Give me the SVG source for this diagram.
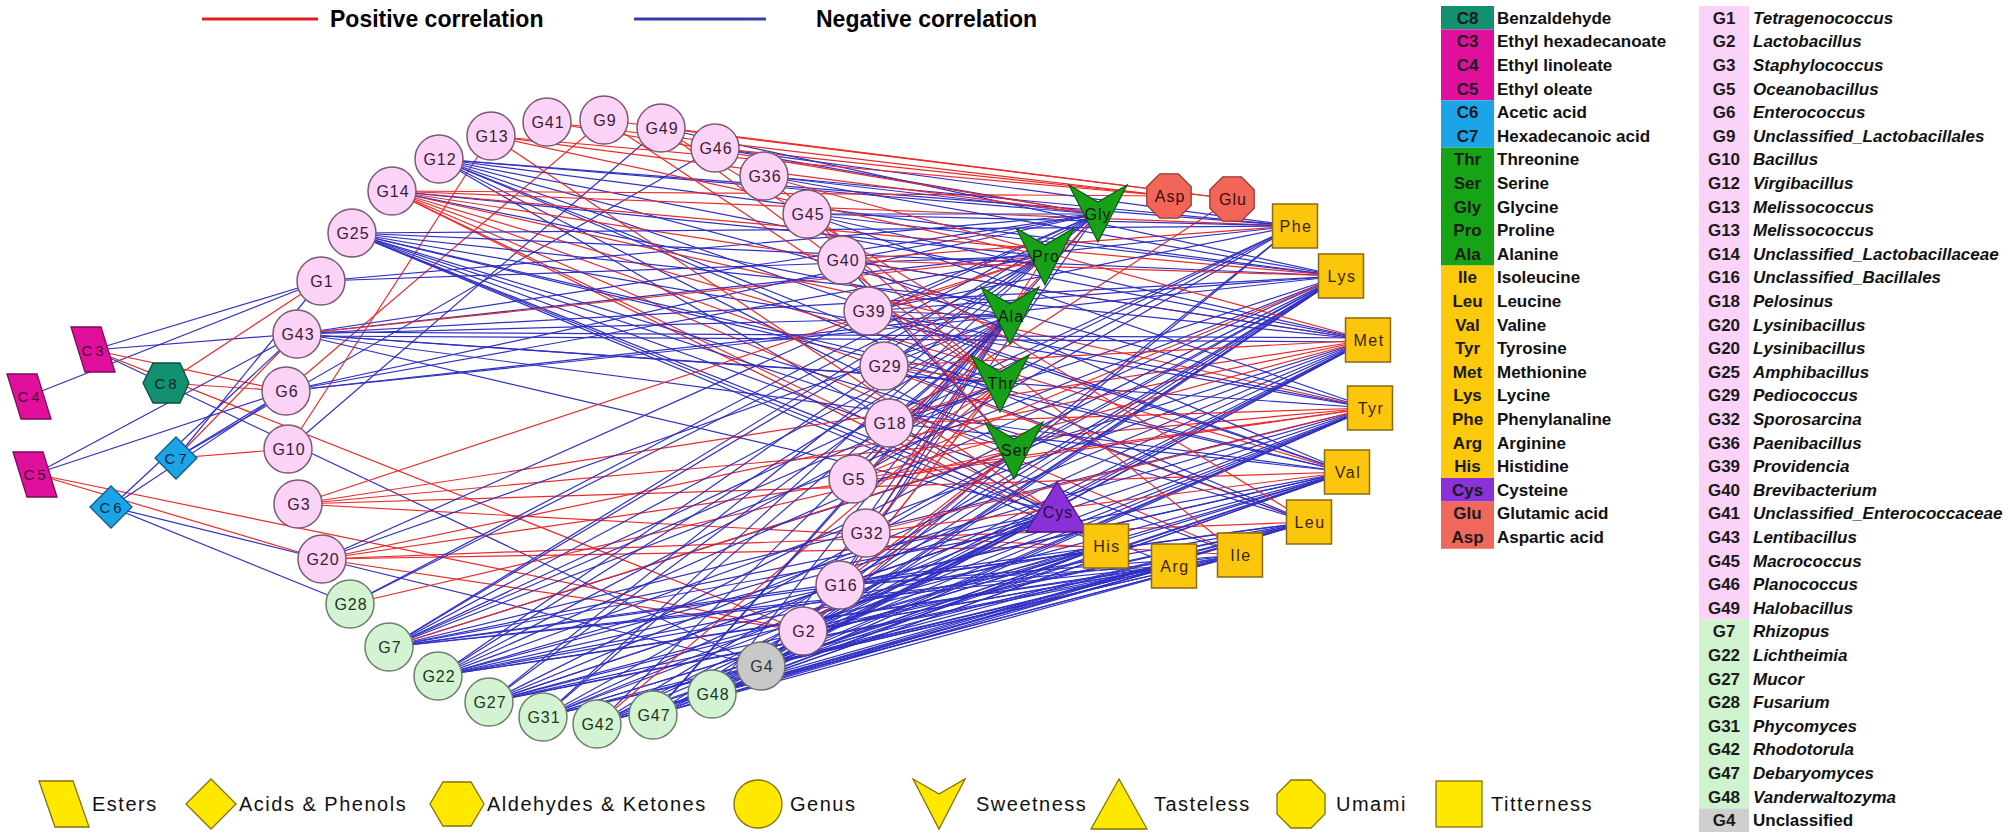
<svg xmlns="http://www.w3.org/2000/svg" width="2008" height="839" viewBox="0 0 2008 839">
<style>
.p{stroke:#ec2a2a;stroke-width:1.2;fill:none}
.n{stroke:#3030c4;stroke-width:1.2;fill:none}
.gp circle{fill:#fad3f7;stroke:#7b5a70;stroke-width:1.5}
.gf circle{fill:#d3f3d3;stroke:#6b806b;stroke-width:1.5}
.gu circle{fill:#c8c8c8;stroke:#6f6f6f;stroke-width:1.5}
text{font-family:"Liberation Sans",Arial,sans-serif}
.gl{font-size:16px;text-anchor:middle;letter-spacing:1px;fill:#3a2035}
.gf .gl{fill:#1e361e}
.gu .gl{fill:#333}
.sq rect{fill:#fcc60c;stroke:#8a6a10;stroke-width:1.5}
.sq text{font-size:16px;text-anchor:middle;letter-spacing:1.5px;fill:#3a2400}
.sw polygon{fill:#18a018;stroke:#0b5a0b;stroke-width:1.2}
.sw text{font-size:16px;text-anchor:middle;letter-spacing:1px;fill:#0a1a0a}
.um polygon{fill:#f2665a;stroke:#9a3a30;stroke-width:1.3}
.um text{font-size:16px;text-anchor:middle;letter-spacing:1px;fill:#3a0a0a}
.ts polygon{fill:#8a30d8;stroke:#4a1a80;stroke-width:1.3}
.ts text{font-size:16px;text-anchor:middle;letter-spacing:1px;fill:#240a40}
.es polygon{fill:#e0109c;stroke:#7a0a58;stroke-width:1.3}
.ac polygon{fill:#1ba4e8;stroke:#0a5a8a;stroke-width:1.3}
.al polygon{fill:#12906f;stroke:#0a5040;stroke-width:1.3}
.cl{font-size:15px;text-anchor:middle;letter-spacing:3px;fill:#3a0a30}
.ac .cl{fill:#0a2a40}
.al .cl{fill:#062a20}
.lg{fill:#ffe800;stroke:#857000;stroke-width:1.3}
.lt{font-size:20px;letter-spacing:1.5px;fill:#111}
.tt{font-size:17px;font-weight:bold;fill:#111}
.tc{font-size:17px;font-weight:bold;fill:#1a1a1a;text-anchor:middle}
.ti{font-style:italic}
.hd{font-size:23px;font-weight:bold;fill:#000}
</style>

<g id="legend-lines">
<line x1="202" y1="19" x2="318" y2="19" stroke="#e02020" stroke-width="3"/>
<text class="hd" x="330" y="27">Positive correlation</text>
<line x1="634" y1="19" x2="766" y2="19" stroke="#3a3aa8" stroke-width="3"/>
<text class="hd" x="816" y="27">Negative correlation</text>
</g>

<g id="connectors">
<path class="n" d="M29 396L321 281"/>
<path class="n" d="M93 350L297 334"/>
<path class="n" d="M93 350L321 281"/>
<path class="n" d="M93 350L761 666"/>
<path class="p" d="M93 350L286 391"/>
<path class="p" d="M93 350L803 631"/>
<path class="p" d="M166 383L321 281"/>
<path class="p" d="M166 383L286 391"/>
<path class="n" d="M35 474L297 334"/>
<path class="n" d="M35 474L286 391"/>
<path class="p" d="M35 474L322 559"/>
<path class="p" d="M35 474L803 631"/>
<path class="p" d="M176 458L288 449"/>
<path class="p" d="M176 458L297 334"/>
<path class="n" d="M176 458L286 391"/>
<path class="n" d="M176 458L321 281"/>
<path class="n" d="M111 507L286 391"/>
<path class="n" d="M111 507L297 334"/>
<path class="n" d="M111 507L322 559"/>
<path class="n" d="M111 507L350 604"/>
<path class="n" d="M715 148L176 458"/>
<path class="p" d="M604 120L286 391"/>
<path class="n" d="M661 128L288 449"/>
<path class="p" d="M491 136L288 449"/>

<path class="n" d="M439 159L1097 214"/>
<path class="n" d="M439 159L1295 226"/>
<path class="n" d="M439 159L1341 276"/>
<path class="n" d="M439 159L1368 340"/>
<path class="n" d="M439 159L1370 408"/>
<path class="n" d="M439 159L1347 472"/>
<path class="n" d="M439 159L1309 522"/>
<path class="n" d="M439 159L1000 383"/>
<path class="n" d="M439 159L1014 450"/>
<path class="n" d="M439 159L1106 546"/>

<path class="p" d="M392 191L1295 226"/>
<path class="p" d="M392 191L1341 276"/>
<path class="p" d="M392 191L1368 340"/>
<path class="p" d="M392 191L1370 408"/>
<path class="p" d="M392 191L1347 472"/>
<path class="p" d="M392 191L1309 522"/>
<path class="p" d="M392 191L1240 555"/>
<path class="p" d="M392 191L1057 512"/>
<path class="p" d="M392 191L1106 546"/>
<path class="p" d="M392 191L1169 196"/>
<path class="n" d="M392 191L1045 256"/>
<path class="n" d="M392 191L1010 316"/>

<path class="n" d="M352 233L1295 226"/>
<path class="n" d="M352 233L1341 276"/>
<path class="n" d="M352 233L1368 340"/>
<path class="n" d="M352 233L1370 408"/>
<path class="n" d="M352 233L1347 472"/>
<path class="n" d="M352 233L1309 522"/>
<path class="n" d="M352 233L1240 555"/>
<path class="n" d="M352 233L1174 566"/>
<path class="n" d="M352 233L1106 546"/>
<path class="n" d="M352 233L1057 512"/>
<path class="n" d="M352 233L1014 450"/>
<path class="n" d="M352 233L1000 383"/>

<path class="n" d="M321 281L1045 256"/>
<path class="n" d="M321 281L1097 214"/>

<path class="n" d="M297 334L1295 226"/>
<path class="n" d="M297 334L1341 276"/>
<path class="n" d="M297 332L1368 338"/>
<path class="n" d="M297 336L1368 342"/>
<path class="n" d="M297 334L1370 408"/>
<path class="n" d="M297 334L1347 472"/>
<path class="n" d="M297 334L1057 512"/>
<path class="n" d="M297 334L1010 316"/>
<path class="n" d="M297 334L1000 383"/>
<path class="n" d="M297 334L1097 214"/>
<path class="p" d="M297 334L1045 256"/>

<path class="n" d="M286 391L1097 214"/>
<path class="n" d="M286 391L1045 256"/>
<path class="n" d="M286 391L1010 316"/>
<path class="n" d="M286 391L1341 276"/>

<path class="p" d="M298 504L1045 256"/>
<path class="p" d="M298 504L1370 408"/>
<path class="p" d="M298 504L1240 555"/>
<path class="p" d="M298 504L1368 340"/>
<path class="p" d="M298 504L1347 472"/>

<path class="p" d="M322 559L1368 340"/>
<path class="p" d="M322 559L1370 408"/>
<path class="p" d="M322 559L1309 522"/>
<path class="p" d="M322 559L1106 546"/>
<path class="p" d="M322 559L803 631"/>
<path class="n" d="M322 559L1097 214"/>
<path class="n" d="M322 559L761 666"/>
<path class="n" d="M322 559L1010 316"/>

<path class="n" d="M350 604L1097 214"/>
<path class="n" d="M350 604L1045 256"/>
<path class="p" d="M350 604L1014 450"/>

<path class="n" d="M389 647L1097 214"/>
<path class="n" d="M389 647L1045 256"/>
<path class="n" d="M389 647L1010 316"/>
<path class="n" d="M389 647L1000 383"/>
<path class="n" d="M389 647L1295 226"/>
<path class="n" d="M389 647L1341 276"/>
<path class="n" d="M389 647L1368 340"/>
<path class="n" d="M389 647L1370 408"/>
<path class="n" d="M389 647L1347 472"/>
<path class="n" d="M389 647L1309 522"/>
<path class="n" d="M389 647L1240 555"/>
<path class="n" d="M389 647L1174 566"/>
<path class="n" d="M389 647L1106 546"/>
<path class="n" d="M389 647L1057 512"/>
<path class="p" d="M389 647L1014 450"/>

<path class="n" d="M438 676L1045 256"/>
<path class="n" d="M438 676L1010 316"/>
<path class="n" d="M438 676L1295 226"/>
<path class="n" d="M438 676L1341 276"/>
<path class="n" d="M438 676L1368 340"/>
<path class="n" d="M438 676L1370 408"/>
<path class="n" d="M438 676L1347 472"/>
<path class="n" d="M438 676L1309 522"/>
<path class="n" d="M438 676L1240 555"/>
<path class="n" d="M438 676L1174 566"/>
<path class="n" d="M438 676L1106 546"/>
<path class="n" d="M438 676L1057 512"/>

<path class="n" d="M489 702L1097 214"/>
<path class="n" d="M489 702L1010 316"/>
<path class="n" d="M489 702L1341 276"/>
<path class="n" d="M489 702L1368 340"/>
<path class="n" d="M489 702L1370 408"/>
<path class="n" d="M489 702L1347 472"/>
<path class="n" d="M489 702L1309 522"/>
<path class="n" d="M489 702L1240 555"/>
<path class="n" d="M489 702L1174 566"/>
<path class="n" d="M489 702L1106 546"/>
<path class="n" d="M489 702L1057 512"/>

<path class="n" d="M543 717L1045 256"/>
<path class="n" d="M543 717L1010 316"/>
<path class="n" d="M543 717L1341 276"/>
<path class="n" d="M543 717L1368 340"/>
<path class="n" d="M543 717L1370 408"/>
<path class="n" d="M543 717L1347 472"/>
<path class="n" d="M543 717L1309 522"/>
<path class="n" d="M543 717L1240 555"/>
<path class="n" d="M543 717L1174 566"/>
<path class="n" d="M543 717L1106 546"/>
<path class="n" d="M543 717L1057 512"/>

<path class="n" d="M597 724L1010 316"/>
<path class="n" d="M597 724L1341 276"/>
<path class="n" d="M597 724L1368 340"/>
<path class="n" d="M597 724L1370 408"/>
<path class="n" d="M597 724L1347 472"/>
<path class="n" d="M597 724L1309 522"/>
<path class="n" d="M597 724L1240 555"/>
<path class="n" d="M597 724L1174 566"/>
<path class="n" d="M597 724L1106 546"/>
<path class="n" d="M597 724L1057 512"/>
<path class="p" d="M597 724L1000 383"/>

<path class="n" d="M653 715L1097 214"/>
<path class="n" d="M653 715L1010 316"/>
<path class="n" d="M653 715L1341 276"/>
<path class="n" d="M653 715L1368 340"/>
<path class="n" d="M653 715L1370 408"/>
<path class="n" d="M653 715L1347 472"/>
<path class="n" d="M653 715L1309 522"/>
<path class="n" d="M653 715L1240 555"/>
<path class="n" d="M653 715L1174 566"/>
<path class="n" d="M653 715L1106 546"/>
<path class="n" d="M653 715L1057 512"/>

<path class="n" d="M712 694L1010 316"/>
<path class="n" d="M712 694L1295 226"/>
<path class="n" d="M712 694L1341 276"/>
<path class="n" d="M712 694L1368 340"/>
<path class="n" d="M712 694L1370 408"/>
<path class="n" d="M712 694L1347 472"/>
<path class="n" d="M712 694L1309 522"/>
<path class="n" d="M712 694L1240 555"/>
<path class="n" d="M712 694L1174 566"/>
<path class="n" d="M712 694L1106 546"/>
<path class="n" d="M712 694L1057 512"/>

<path class="n" d="M761 666L1010 316"/>
<path class="n" d="M761 666L1295 226"/>
<path class="n" d="M761 666L1341 276"/>
<path class="n" d="M761 666L1368 340"/>
<path class="n" d="M761 666L1370 408"/>
<path class="n" d="M761 666L1347 472"/>
<path class="n" d="M761 666L1309 522"/>
<path class="n" d="M761 666L1240 555"/>
<path class="n" d="M761 666L1174 566"/>
<path class="n" d="M761 666L1106 546"/>
<path class="n" d="M761 666L1057 512"/>

<path class="n" d="M803 631L1097 214"/>
<path class="n" d="M803 631L1341 276"/>
<path class="n" d="M803 631L1368 340"/>
<path class="n" d="M803 631L1370 408"/>
<path class="n" d="M803 631L1347 472"/>
<path class="n" d="M803 631L1309 522"/>
<path class="n" d="M803 631L1240 555"/>
<path class="n" d="M803 631L1174 566"/>
<path class="n" d="M803 631L1106 546"/>
<path class="n" d="M803 631L1057 512"/>
<path class="p" d="M803 631L1000 383"/>
<path class="p" d="M803 631L1014 450"/>

<path class="n" d="M840 585L1010 316"/>
<path class="n" d="M840 585L1341 276"/>
<path class="n" d="M840 585L1347 472"/>
<path class="n" d="M840 585L1309 522"/>
<path class="n" d="M840 585L1240 555"/>
<path class="n" d="M840 585L1174 566"/>
<path class="n" d="M840 585L1057 512"/>
<path class="p" d="M840 585L1000 383"/>
<path class="p" d="M840 585L1014 450"/>

<path class="p" d="M866 533L1000 383"/>
<path class="p" d="M866 533L1045 256"/>
<path class="p" d="M866 533L1347 472"/>
<path class="p" d="M866 533L1370 408"/>
<path class="n" d="M866 533L1010 316"/>
<path class="n" d="M866 533L1341 276"/>

<path class="p" d="M853 479L1000 383"/>
<path class="p" d="M853 479L1097 214"/>
<path class="p" d="M853 479L1368 340"/>
<path class="p" d="M853 479L1370 408"/>
<path class="p" d="M853 479L1341 276"/>
<path class="n" d="M853 479L1010 316"/>
<path class="n" d="M853 479L1295 226"/>

<path class="p" d="M889 423L1000 383"/>
<path class="p" d="M889 423L1232 199"/>
<path class="p" d="M889 423L1370 408"/>
<path class="n" d="M889 423L1010 316"/>
<path class="n" d="M889 423L1295 226"/>
<path class="n" d="M889 423L1341 276"/>
<path class="n" d="M889 423L1347 472"/>

<path class="p" d="M884 366L1000 383"/>
<path class="p" d="M884 366L1368 340"/>
<path class="n" d="M884 366L1010 316"/>
<path class="n" d="M884 366L1097 214"/>
<path class="n" d="M884 366L1347 472"/>
<path class="n" d="M884 366L1309 522"/>

<path class="n" d="M868 311L1010 316"/>
<path class="n" d="M868 311L1097 214"/>
<path class="n" d="M868 311L1295 226"/>
<path class="n" d="M868 311L1341 276"/>
<path class="n" d="M868 311L1370 408"/>
<path class="n" d="M868 311L1347 472"/>
<path class="p" d="M868 311L1045 256"/>

<path class="n" d="M842 260L1097 214"/>
<path class="n" d="M842 260L1368 340"/>
<path class="n" d="M842 260L1347 472"/>
<path class="n" d="M842 260L1014 450"/>
<path class="p" d="M842 260L1341 276"/>
<path class="p" d="M842 260L1295 226"/>

<path class="n" d="M807 214L1097 214"/>
<path class="n" d="M807 214L1295 226"/>
<path class="n" d="M807 214L1341 276"/>
<path class="n" d="M807 214L1370 408"/>
<path class="n" d="M807 214L1368 340"/>
<path class="p" d="M807 214L1014 450"/>
<path class="p" d="M807 214L1000 383"/>

<path class="n" d="M764 176L1097 214"/>
<path class="n" d="M764 176L1295 226"/>
<path class="n" d="M764 176L1341 276"/>
<path class="p" d="M764 176L1240 555"/>
<path class="p" d="M764 176L1368 340"/>

<path class="n" d="M715 148L1097 214"/>
<path class="n" d="M715 148L1295 226"/>
<path class="p" d="M715 148L1169 196"/>

<path class="n" d="M661 128L1341 276"/>
<path class="p" d="M661 128L1232 199"/>
<path class="p" d="M661 128L1309 522"/>
<path class="p" d="M661 128L1000 383"/>

<path class="p" d="M604 120L1232 199"/>
<path class="p" d="M604 120L1000 383"/>

<path class="p" d="M547 122L1169 196"/>
<path class="p" d="M547 122L1097 214"/>

<path class="p" d="M491 136L1169 196"/>
<path class="p" d="M491 136L1097 214"/>
<path class="p" d="M491 136L1045 256"/>
<path class="p" d="M491 136L1106 546"/>
</g>

<g id="node-C3" class="es"><polygon points="71,327 101,327 115,372 85,372"/><text class="cl" x="94" y="356">C3</text></g>
<g id="node-C4" class="es"><polygon points="7,374 37,374 51,419 21,419"/><text class="cl" x="30" y="402">C4</text></g>
<g id="node-C5" class="es"><polygon points="13,452 43,452 57,497 27,497"/><text class="cl" x="36" y="480">C5</text></g>
<g id="node-C8" class="al"><polygon points="143,383 153,363 180,363 189,383 180,403 153,403"/><text class="cl" x="167" y="389">C8</text></g>
<g id="node-C7" class="ac"><polygon points="176,437 197,458 176,479 155,458"/><text class="cl" x="177" y="464">C7</text></g>
<g id="node-C6" class="ac"><polygon points="111,486 132,507 111,528 90,507"/><text class="cl" x="112" y="513">C6</text></g>

<g id="node-G12" class="gp"><circle cx="439" cy="159" r="24"/><text class="gl" x="440" y="165">G12</text></g>
<g id="node-G13" class="gp"><circle cx="491" cy="136" r="24"/><text class="gl" x="492" y="142">G13</text></g>
<g id="node-G41" class="gp"><circle cx="547" cy="122" r="24"/><text class="gl" x="548" y="128">G41</text></g>
<g id="node-G9" class="gp"><circle cx="604" cy="120" r="24"/><text class="gl" x="605" y="126">G9</text></g>
<g id="node-G49" class="gp"><circle cx="661" cy="128" r="24"/><text class="gl" x="662" y="134">G49</text></g>
<g id="node-G46" class="gp"><circle cx="715" cy="148" r="24"/><text class="gl" x="716" y="154">G46</text></g>
<g id="node-G36" class="gp"><circle cx="764" cy="176" r="24"/><text class="gl" x="765" y="182">G36</text></g>
<g id="node-G45" class="gp"><circle cx="807" cy="214" r="24"/><text class="gl" x="808" y="220">G45</text></g>
<g id="node-G40" class="gp"><circle cx="842" cy="260" r="24"/><text class="gl" x="843" y="266">G40</text></g>
<g id="node-G39" class="gp"><circle cx="868" cy="311" r="24"/><text class="gl" x="869" y="317">G39</text></g>
<g id="node-G29" class="gp"><circle cx="884" cy="366" r="24"/><text class="gl" x="885" y="372">G29</text></g>
<g id="node-G18" class="gp"><circle cx="889" cy="423" r="24"/><text class="gl" x="890" y="429">G18</text></g>
<g id="node-G5" class="gp"><circle cx="853" cy="479" r="24"/><text class="gl" x="854" y="485">G5</text></g>
<g id="node-G32" class="gp"><circle cx="866" cy="533" r="24"/><text class="gl" x="867" y="539">G32</text></g>
<g id="node-G16" class="gp"><circle cx="840" cy="585" r="24"/><text class="gl" x="841" y="591">G16</text></g>
<g id="node-G2" class="gp"><circle cx="803" cy="631" r="24"/><text class="gl" x="804" y="637">G2</text></g>
<g id="node-G4" class="gu"><circle cx="761" cy="666" r="24"/><text class="gl" x="762" y="672">G4</text></g>
<g id="node-G48" class="gf"><circle cx="712" cy="694" r="24"/><text class="gl" x="713" y="700">G48</text></g>
<g id="node-G47" class="gf"><circle cx="653" cy="715" r="24"/><text class="gl" x="654" y="721">G47</text></g>
<g id="node-G42" class="gf"><circle cx="597" cy="724" r="24"/><text class="gl" x="598" y="730">G42</text></g>
<g id="node-G31" class="gf"><circle cx="543" cy="717" r="24"/><text class="gl" x="544" y="723">G31</text></g>
<g id="node-G27" class="gf"><circle cx="489" cy="702" r="24"/><text class="gl" x="490" y="708">G27</text></g>
<g id="node-G22" class="gf"><circle cx="438" cy="676" r="24"/><text class="gl" x="439" y="682">G22</text></g>
<g id="node-G7" class="gf"><circle cx="389" cy="647" r="24"/><text class="gl" x="390" y="653">G7</text></g>
<g id="node-G28" class="gf"><circle cx="350" cy="604" r="24"/><text class="gl" x="351" y="610">G28</text></g>
<g id="node-G20" class="gp"><circle cx="322" cy="559" r="24"/><text class="gl" x="323" y="565">G20</text></g>
<g id="node-G3" class="gp"><circle cx="298" cy="504" r="24"/><text class="gl" x="299" y="510">G3</text></g>
<g id="node-G10" class="gp"><circle cx="288" cy="449" r="24"/><text class="gl" x="289" y="455">G10</text></g>
<g id="node-G6" class="gp"><circle cx="286" cy="391" r="24"/><text class="gl" x="287" y="397">G6</text></g>
<g id="node-G43" class="gp"><circle cx="297" cy="334" r="24"/><text class="gl" x="298" y="340">G43</text></g>
<g id="node-G1" class="gp"><circle cx="321" cy="281" r="24"/><text class="gl" x="322" y="287">G1</text></g>
<g id="node-G25" class="gp"><circle cx="352" cy="233" r="24"/><text class="gl" x="353" y="239">G25</text></g>
<g id="node-G14" class="gp"><circle cx="392" cy="191" r="24"/><text class="gl" x="393" y="197">G14</text></g>

<g id="node-Gly" class="sw"><polygon points="1069,185 1098,202 1127,185 1098,242"/><text x="1098" y="220">Gly</text></g>
<g id="node-Pro" class="sw"><polygon points="1016,228 1045,245 1074,228 1045,285"/><text x="1046" y="262">Pro</text></g>
<g id="node-Ala" class="sw"><polygon points="981,287 1010,304 1039,287 1010,344"/><text x="1011" y="322">Ala</text></g>
<g id="node-Thr" class="sw"><polygon points="971,355 1000,372 1029,355 1000,412"/><text x="1001" y="389">Thr</text></g>
<g id="node-Ser" class="sw"><polygon points="985,422 1014,439 1043,422 1014,479"/><text x="1015" y="456">Ser</text></g>

<g id="node-Asp" class="um"><polygon points="1178.2,173.8 1191.2,186.8 1191.2,205.2 1178.2,218.2 1159.8,218.2 1146.8,205.2 1146.8,186.8 1159.8,173.8"/><text x="1170" y="202">Asp</text></g>
<g id="node-Glu" class="um"><polygon points="1241.2,176.8 1254.2,189.8 1254.2,208.2 1241.2,221.2 1222.8,221.2 1209.8,208.2 1209.8,189.8 1222.8,176.8"/><text x="1233" y="205">Glu</text></g>

<g id="node-Cys" class="ts"><polygon points="1057,482 1088,532 1026,532"/><text x="1058" y="518">Cys</text></g>

<g id="node-Phe" class="sq"><rect x="1272.5" y="204" width="45" height="44"/><text x="1296" y="232">Phe</text></g>
<g id="node-Lys" class="sq"><rect x="1318.5" y="254" width="45" height="44"/><text x="1342" y="282">Lys</text></g>
<g id="node-Met" class="sq"><rect x="1345.5" y="318" width="45" height="44"/><text x="1369" y="346">Met</text></g>
<g id="node-Tyr" class="sq"><rect x="1347.5" y="386" width="45" height="44"/><text x="1371" y="414">Tyr</text></g>
<g id="node-Val" class="sq"><rect x="1324.5" y="450" width="45" height="44"/><text x="1348" y="478">Val</text></g>
<g id="node-Leu" class="sq"><rect x="1286.5" y="500" width="45" height="44"/><text x="1310" y="528">Leu</text></g>
<g id="node-Ile" class="sq"><rect x="1217.5" y="533" width="45" height="44"/><text x="1241" y="561">Ile</text></g>
<g id="node-Arg" class="sq"><rect x="1151.5" y="544" width="45" height="44"/><text x="1175" y="572">Arg</text></g>
<g id="node-His" class="sq"><rect x="1083.5" y="524" width="45" height="44"/><text x="1107" y="552">His</text></g>

<g id="legend-shapes">
<polygon class="lg" points="39,781 73,781 89,827 55,827"/><text class="lt" x="92" y="811">Esters</text>
<polygon class="lg" points="211,779 236,804 211,829 186,804"/><text class="lt" x="239" y="811">Acids &amp; Phenols</text>
<polygon class="lg" points="430,804 443,782 471,782 484,804 471,826 443,826"/><text class="lt" x="487" y="811">Aldehydes &amp; Ketones</text>
<circle class="lg" cx="758" cy="804" r="24"/><text class="lt" x="790" y="811">Genus</text>
<polygon class="lg" points="913,779 939,794 965,779 939,829"/><text class="lt" x="976" y="811">Sweetness</text>
<polygon class="lg" points="1119,779 1147,829 1091,829"/><text class="lt" x="1154" y="811">Tasteless</text>
<polygon class="lg" points="1311,780 1325,794 1325,814 1311,828 1291,828 1277,814 1277,794 1291,780"/><text class="lt" x="1336" y="811">Umami</text>
<rect class="lg" x="1436" y="781" width="46" height="46"/><text class="lt" x="1491" y="811">Titterness</text>
</g>

<g id="legend-compounds">
<rect x="1441" y="6" width="53" height="23.6" fill="#12906f"/>
<rect x="1441" y="29.6" width="53" height="70.8" fill="#e0109c"/>
<rect x="1441" y="100.4" width="53" height="47.2" fill="#1ba4e8"/>
<rect x="1441" y="147.6" width="53" height="118" fill="#16a316"/>
<rect x="1441" y="265.6" width="53" height="212.4" fill="#fcc90b"/>
<rect x="1441" y="478" width="53" height="23.6" fill="#8a32d8"/>
<rect x="1441" y="501.6" width="53" height="47.2" fill="#f0685c"/>
<text class="tc" x="1467.5" y="23.8">C8</text><text class="tt" x="1497" y="23.8">Benzaldehyde</text>
<text class="tc" x="1467.5" y="47.4">C3</text><text class="tt" x="1497" y="47.4">Ethyl hexadecanoate</text>
<text class="tc" x="1467.5" y="71">C4</text><text class="tt" x="1497" y="71">Ethyl linoleate</text>
<text class="tc" x="1467.5" y="94.6">C5</text><text class="tt" x="1497" y="94.6">Ethyl oleate</text>
<text class="tc" x="1467.5" y="118.2">C6</text><text class="tt" x="1497" y="118.2">Acetic acid</text>
<text class="tc" x="1467.5" y="141.8">C7</text><text class="tt" x="1497" y="141.8">Hexadecanoic acid</text>
<text class="tc" x="1467.5" y="165.4">Thr</text><text class="tt" x="1497" y="165.4">Threonine</text>
<text class="tc" x="1467.5" y="189">Ser</text><text class="tt" x="1497" y="189">Serine</text>
<text class="tc" x="1467.5" y="212.6">Gly</text><text class="tt" x="1497" y="212.6">Glycine</text>
<text class="tc" x="1467.5" y="236.2">Pro</text><text class="tt" x="1497" y="236.2">Proline</text>
<text class="tc" x="1467.5" y="259.8">Ala</text><text class="tt" x="1497" y="259.8">Alanine</text>
<text class="tc" x="1467.5" y="283.4">Ile</text><text class="tt" x="1497" y="283.4">Isoleucine</text>
<text class="tc" x="1467.5" y="307">Leu</text><text class="tt" x="1497" y="307">Leucine</text>
<text class="tc" x="1467.5" y="330.6">Val</text><text class="tt" x="1497" y="330.6">Valine</text>
<text class="tc" x="1467.5" y="354.2">Tyr</text><text class="tt" x="1497" y="354.2">Tyrosine</text>
<text class="tc" x="1467.5" y="377.8">Met</text><text class="tt" x="1497" y="377.8">Methionine</text>
<text class="tc" x="1467.5" y="401.4">Lys</text><text class="tt" x="1497" y="401.4">Lycine</text>
<text class="tc" x="1467.5" y="425">Phe</text><text class="tt" x="1497" y="425">Phenylanaline</text>
<text class="tc" x="1467.5" y="448.6">Arg</text><text class="tt" x="1497" y="448.6">Arginine</text>
<text class="tc" x="1467.5" y="472.2">His</text><text class="tt" x="1497" y="472.2">Histidine</text>
<text class="tc" x="1467.5" y="495.8">Cys</text><text class="tt" x="1497" y="495.8">Cysteine</text>
<text class="tc" x="1467.5" y="519.4">Glu</text><text class="tt" x="1497" y="519.4">Glutamic acid</text>
<text class="tc" x="1467.5" y="543">Asp</text><text class="tt" x="1497" y="543">Aspartic acid</text>
</g>

<g id="legend-genus">
<rect x="1699" y="6" width="50" height="613.6" fill="#fbd3f8"/>
<rect x="1699" y="619.6" width="50" height="188.8" fill="#cff3cf"/>
<rect x="1699" y="808.4" width="50" height="23.6" fill="#cfcfcf"/>
<text class="tc" x="1724" y="23.8">G1</text><text class="tt ti" x="1753" y="23.8">Tetragenococcus</text>
<text class="tc" x="1724" y="47.4">G2</text><text class="tt ti" x="1753" y="47.4">Lactobacillus</text>
<text class="tc" x="1724" y="71">G3</text><text class="tt ti" x="1753" y="71">Staphylococcus</text>
<text class="tc" x="1724" y="94.6">G5</text><text class="tt ti" x="1753" y="94.6">Oceanobacillus</text>
<text class="tc" x="1724" y="118.2">G6</text><text class="tt ti" x="1753" y="118.2">Enterococcus</text>
<text class="tc" x="1724" y="141.8">G9</text><text class="tt ti" x="1753" y="141.8">Unclassified_Lactobacillales</text>
<text class="tc" x="1724" y="165.4">G10</text><text class="tt ti" x="1753" y="165.4">Bacillus</text>
<text class="tc" x="1724" y="189">G12</text><text class="tt ti" x="1753" y="189">Virgibacillus</text>
<text class="tc" x="1724" y="212.6">G13</text><text class="tt ti" x="1753" y="212.6">Melissococcus</text>
<text class="tc" x="1724" y="236.2">G13</text><text class="tt ti" x="1753" y="236.2">Melissococcus</text>
<text class="tc" x="1724" y="259.8">G14</text><text class="tt ti" x="1753" y="259.8">Unclassified_Lactobacillaceae</text>
<text class="tc" x="1724" y="283.4">G16</text><text class="tt ti" x="1753" y="283.4">Unclassified_Bacillales</text>
<text class="tc" x="1724" y="307">G18</text><text class="tt ti" x="1753" y="307">Pelosinus</text>
<text class="tc" x="1724" y="330.6">G20</text><text class="tt ti" x="1753" y="330.6">Lysinibacillus</text>
<text class="tc" x="1724" y="354.2">G20</text><text class="tt ti" x="1753" y="354.2">Lysinibacillus</text>
<text class="tc" x="1724" y="377.8">G25</text><text class="tt ti" x="1753" y="377.8">Amphibacillus</text>
<text class="tc" x="1724" y="401.4">G29</text><text class="tt ti" x="1753" y="401.4">Pediococcus</text>
<text class="tc" x="1724" y="425">G32</text><text class="tt ti" x="1753" y="425">Sporosarcina</text>
<text class="tc" x="1724" y="448.6">G36</text><text class="tt ti" x="1753" y="448.6">Paenibacillus</text>
<text class="tc" x="1724" y="472.2">G39</text><text class="tt ti" x="1753" y="472.2">Providencia</text>
<text class="tc" x="1724" y="495.8">G40</text><text class="tt ti" x="1753" y="495.8">Brevibacterium</text>
<text class="tc" x="1724" y="519.4">G41</text><text class="tt ti" x="1753" y="519.4">Unclassified_Enterococcaceae</text>
<text class="tc" x="1724" y="543">G43</text><text class="tt ti" x="1753" y="543">Lentibacillus</text>
<text class="tc" x="1724" y="566.6">G45</text><text class="tt ti" x="1753" y="566.6">Macrococcus</text>
<text class="tc" x="1724" y="590.2">G46</text><text class="tt ti" x="1753" y="590.2">Planococcus</text>
<text class="tc" x="1724" y="613.8">G49</text><text class="tt ti" x="1753" y="613.8">Halobacillus</text>
<text class="tc" x="1724" y="637.4">G7</text><text class="tt ti" x="1753" y="637.4">Rhizopus</text>
<text class="tc" x="1724" y="661">G22</text><text class="tt ti" x="1753" y="661">Lichtheimia</text>
<text class="tc" x="1724" y="684.6">G27</text><text class="tt ti" x="1753" y="684.6">Mucor</text>
<text class="tc" x="1724" y="708.2">G28</text><text class="tt ti" x="1753" y="708.2">Fusarium</text>
<text class="tc" x="1724" y="731.8">G31</text><text class="tt ti" x="1753" y="731.8">Phycomyces</text>
<text class="tc" x="1724" y="755.4">G42</text><text class="tt ti" x="1753" y="755.4">Rhodotorula</text>
<text class="tc" x="1724" y="779">G47</text><text class="tt ti" x="1753" y="779">Debaryomyces</text>
<text class="tc" x="1724" y="802.6">G48</text><text class="tt ti" x="1753" y="802.6">Vanderwaltozyma</text>
<text class="tc" x="1724" y="826.2">G4</text><text class="tt" x="1753" y="826.2">Unclassified</text>
</g>
</svg>
